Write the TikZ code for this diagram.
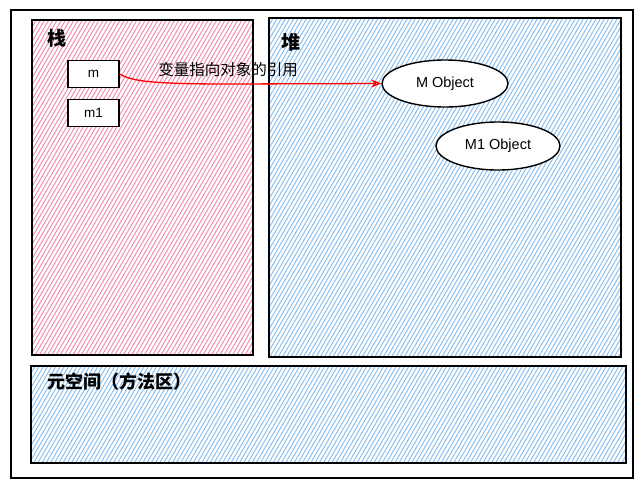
\documentclass[tikz,border=0pt]{standalone}
\usepackage{fontspec}
\setmainfont{Liberation Sans}
\newfontfamily\cjk{Noto Sans CJK SC}
\usetikzlibrary{arrows.meta,shapes.geometric}
\definecolor{hpink}{HTML}{F090B2}
\definecolor{hblue}{HTML}{8EC0EE}
\tikzset{
  region/.style={draw=black, line width=1.4pt, rectangle, inner sep=0pt},
  smallbox/.style={draw=black, line width=1.4pt, fill=white, rectangle, minimum width=51pt, minimum height=27pt, font=\fontsize{13.5}{15}\selectfont},
  objell/.style={draw=black, line width=1.4pt, fill=white, ellipse, inner sep=0pt, font=\fontsize{14.5}{16}\selectfont},
  title/.style={font=\cjk\bfseries\fontsize{19}{22}\selectfont, inner sep=0pt},
  reflabel/.style={font=\cjk\fontsize{15.5}{18}\selectfont, inner sep=0pt},
  refarrow/.style={draw=red, line width=1.3pt, -{Stealth[length=10pt,width=8pt,open]}},
}
\newcommand\myhatch[5]{%
  \begin{scope}
    \clip (#1,#2) rectangle (#3,#4);
    \pgfmathsetmacro\hh{#4-#2}
    \pgfmathsetmacro\xs{#1-0.58*\hh}
    \pgfmathsetmacro\xn{\xs+4.2}
    \foreach \x in {\xs,\xn,...,#3} {
      \draw[#5, line width=1pt] (\x,#4) -- ++(0.58*\hh,-\hh);
    }
  \end{scope}}
\begin{document}
\begin{tikzpicture}[x=1pt,y=-1pt]
\useasboundingbox (0,0) rectangle (644,491);
\fill[white] (0,0) rectangle (644,491);
% outer frame
\node[region, minimum width=622pt, minimum height=468pt] (outer) at (322,244) {};
% hatching
\myhatch{32}{20}{253}{355}{hpink}
\myhatch{269}{18}{621}{357}{hblue}
\myhatch{31}{366}{626}{463}{hblue}
% regions
\node[region, minimum width=221pt, minimum height=335pt] (stack) at (142.5,187.5) {};
\node[region, minimum width=352pt, minimum height=339pt] (heap) at (445,187.5) {};
\node[region, minimum width=595pt, minimum height=97pt] (meta) at (328.5,414.5) {};
% titles
\node[title] (stackt) at (57,38) {栈};
\node[title] (heapt) at (291,42) {堆};
\node[title, anchor=west, font=\cjk\bfseries\fontsize{18}{21}\selectfont] (metat) at (47,382) {元空间（方法区）};
% stack variables
\node[smallbox] (m) at (93.5,74) {m};
\node[smallbox] (m1) at (93.5,113) {m1};
% heap objects
\node[objell, minimum width=126pt, minimum height=47pt] (mobj) at (445,83.5) {M Object};
\node[objell, minimum width=124pt, minimum height=48pt] (m1obj) at (498,146) {M1 Object};
% reference
\node[reflabel] (lbl) at (228,70) {变量指向对象的引用};
\draw[refarrow] (m.east) .. controls (132,82) and (160,84) .. (230,84) -- (mobj.west);
\end{tikzpicture}
\end{document}
